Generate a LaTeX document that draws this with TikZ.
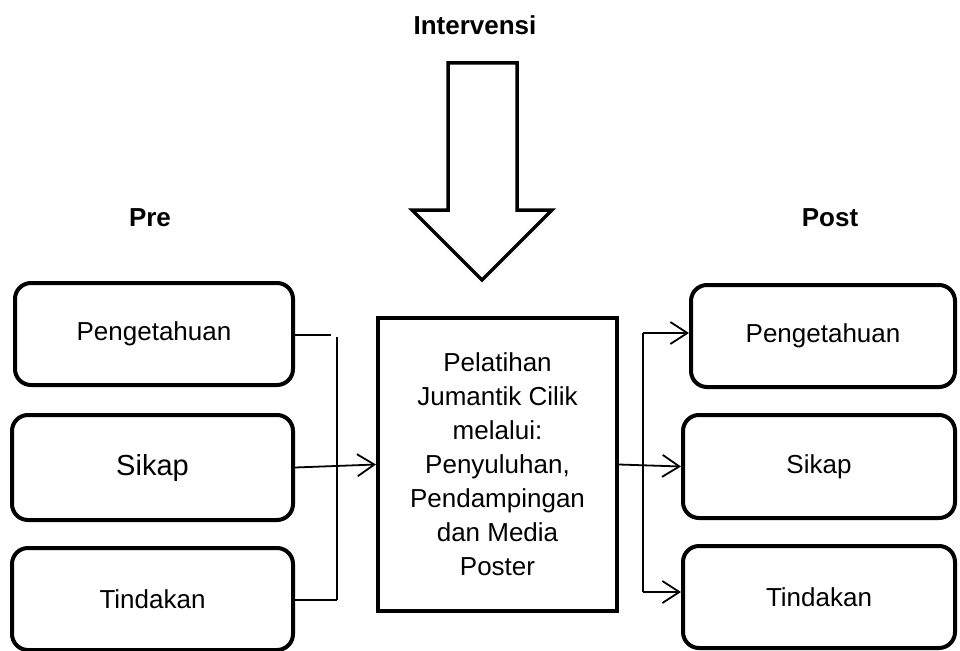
\documentclass[tikz,border=0pt]{standalone}
\usepackage{fontspec}
\setmainfont{Liberation Sans}
\usetikzlibrary{arrows.meta}

\begin{document}
\begin{tikzpicture}[x=1pt, y=-1pt,
      box/.style={draw, line width=4pt, rounded corners=16pt, inner sep=0pt,
        font=\fontsize{26}{34}\selectfont},
      title/.style={font=\bfseries\fontsize{26}{34}\selectfont},
      link/.style={line width=1.8pt},
      arr/.style={link, -{Straight Barb[length=17pt, width=22pt]}}]
    \useasboundingbox (0,0) rectangle (960,650);
    \node[title] (intervensi) at (475,25) {Intervensi};
    \node[title] (pre) at (150,218) {Pre};
    \node[title] (post) at (830,218) {Post};
    % big arrow
    \draw[line width=3.5pt] (448,63) -- (517,63) -- (517,210) -- (552,210)
      -- (482,280) -- (412,210) -- (448,210) -- cycle;
    % pre
    \node[box, minimum width=278pt, minimum height=102pt] (preP) at (154,334) {Pengetahuan};
    \node[box, minimum width=281pt, minimum height=105pt,
      font=\fontsize{29}{34}\selectfont] (preS) at (152.5,467.5) {Sikap};
    \node[box, minimum width=281pt, minimum height=102pt] (preT) at (152.5,599) {Tindakan};
    % intervensi
    \node[box, rounded corners=0pt, minimum width=239pt, minimum height=293pt, align=center]
      (latih) at (497.5,464.5) {Pelatihan\\Jumantik Cilik\\melalui:\\Penyuluhan,\\Pendampingan\\dan Media\\Poster};
    % post
    \node[box, minimum width=264pt, minimum height=102pt] (postP) at (823,336) {Pengetahuan};
    \node[box, minimum width=272pt, minimum height=103pt] (postS) at (819,466.5) {Sikap};
    \node[box, minimum width=272pt, minimum height=102pt] (postT) at (819,597) {Tindakan};

    \coordinate (lend) at (331,335);
    \coordinate (ltop) at (337,337);
    \coordinate (lbot) at (337,600);
    \coordinate (rtop) at (643,333);
    \coordinate (rbot) at (643,592);

    \draw[link] (preP.east |- lend) -- (lend);
    \draw[link] (ltop) -- (lbot);
    \draw[link] (preT.east |- lbot) -- (lbot);
    \draw[arr] (preS.east) -- (latih.west);

    \draw[link] (rtop) -- (rbot);
    \draw[arr] (rtop) -- (postP.west |- rtop);
    \draw[arr] (latih.east) -- (postS.west);
    \draw[arr] (rbot) -- (postT.west |- rbot);
  \end{tikzpicture}
\end{document}
